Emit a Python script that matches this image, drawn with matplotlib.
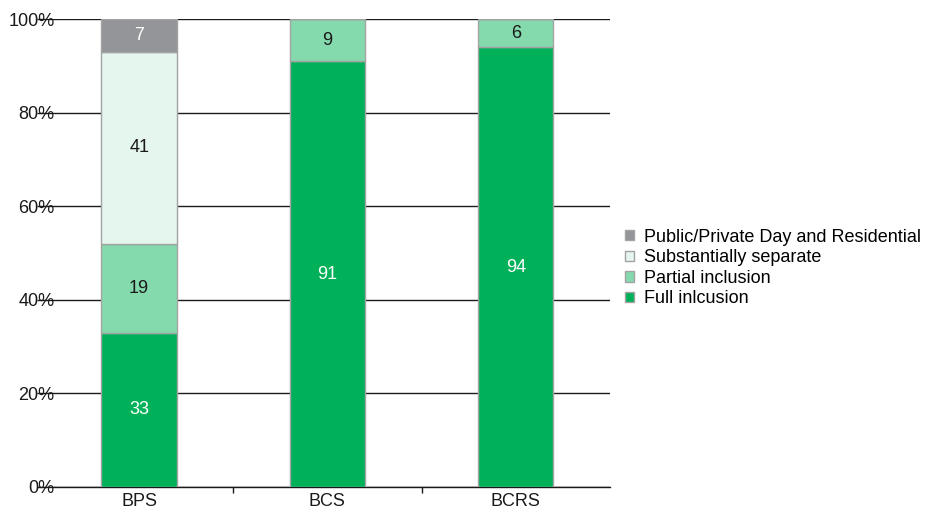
import matplotlib
matplotlib.use("Agg")
import matplotlib.pyplot as plt
from matplotlib.ticker import FixedLocator, PercentFormatter
import numpy as np

plt.rcParams['font.family'] = ['Liberation Sans', 'DejaVu Sans']

categories = ["BPS", "BCS", "BCRS"]
series_names = ["Full inlcusion", "Partial inclusion",
                "Substantially separate", "Public/Private Day and Residential"]
full_inclusion = [33, 91, 94]
partial_inclusion = [19, 9, 6]
substantially_separate = [41, 0, 0]
public_private = [7, 0, 0]

series = [full_inclusion, partial_inclusion, substantially_separate, public_private]
colors = ["#00B15A", "#84D9AD", "#E4F6ED", "#939598"]
label_colors = ["white", "#1a1a1a", "#1a1a1a", "white"]

fig = plt.figure(figsize=(9.26, 5.11), dpi=100)
ax = fig.add_axes([0.0486, 0.047, 0.61, 0.9158])

x = np.arange(len(categories))
bottom = np.zeros(len(categories))
handles = []
for vals, col, lc, name in zip(series, colors, label_colors, series_names):
    vals = np.array(vals, dtype=float)
    bars = ax.bar(x, vals, width=0.4, bottom=bottom, color=col,
                  edgecolor="#A3A3A3", linewidth=1.0, zorder=3, label=name)
    handles.append(bars)
    for xi, b, v in zip(x, bottom, vals):
        if v > 0:
            ax.text(xi, b + v / 2, f"{v:g}", ha="center", va="center",
                    color=lc, fontsize=13, zorder=4)
    bottom += vals

ax.set_xlim(-0.5, 2.5)
ax.set_ylim(0, 100)
ax.set_yticks(np.arange(0, 101, 20))
ax.yaxis.set_major_formatter(PercentFormatter(decimals=0))
ax.grid(axis="y", color="#1a1a1a", linewidth=1.0, zorder=0)
ax.set_axisbelow(True)

for s in ["left", "right", "top"]:
    ax.spines[s].set_visible(False)
ax.spines["bottom"].set_color("#1a1a1a")
ax.spines["bottom"].set_linewidth(1.0)

ax.tick_params(axis="y", length=6, width=1.0, color="#1a1a1a",
               pad=-13, labelsize=13, labelcolor="#1a1a1a")
ax.set_xticks(x)
ax.set_xticklabels(categories, fontsize=13, color="#1a1a1a")
ax.tick_params(axis="x", which="major", length=0, pad=4)
ax.xaxis.set_minor_locator(FixedLocator([0.5, 1.5]))
ax.tick_params(axis="x", which="minor", length=4, width=1.0, color="#1a1a1a")
for lbl in ax.get_yticklabels():
    lbl.set_zorder(5)

leg = fig.legend(handles[::-1], series_names[::-1], loc="center left",
                 bbox_to_anchor=(0.667, 0.4755), frameon=False, fontsize=13,
                 handlelength=0.5, handleheight=0.5, handletextpad=0.55,
                 labelspacing=0.2, borderaxespad=0)

fig.savefig("out.png", dpi=100)
